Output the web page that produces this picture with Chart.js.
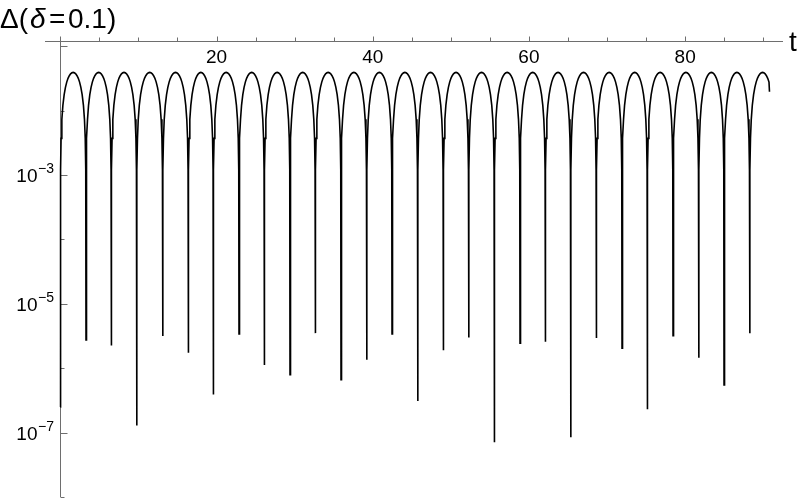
<!DOCTYPE html>
<html>
<head>
<meta charset="utf-8">
<script src="https://cdn.jsdelivr.net/npm/chart.js@4.4.1/dist/chart.umd.min.js"></script>
<style>
  html, body { margin: 0; padding: 0; background: #fff; }
  #wrap { width: 800px; height: 498px; }
</style>
</head>
<body>
<div id="wrap"><canvas id="c" width="800" height="498"></canvas></div>
<script>
// ---- data ----
const dipTimes = [0, 3.29, 6.53, 9.78, 13.11, 16.39, 19.59, 22.88, 26.12, 29.41, 32.65, 35.94, 39.23, 42.47,
  45.76, 49.04, 52.29, 55.57, 58.86, 62.10, 65.35, 68.63, 71.92, 75.16, 78.45, 81.74, 84.98, 88.27];
const dipValues = [2.5e-7, 2.75e-6, 2.24e-6, 1.29e-7, 3.16e-6, 1.74e-6, 3.9e-7, 3.4e-6, 1.12e-6, 7.9e-7, 3.5e-6,
  6.6e-7, 1.35e-6, 3.4e-6, 3.1e-7, 1.9e-6, 3.0e-6, 7.1e-8, 2.45e-6, 2.57e-6, 8.5e-8, 2.95e-6, 2.04e-6, 2.3e-7,
  3.2e-6, 1.45e-6, 5.5e-7, 3.5e-6];
// shape of one arch between two dips: position as a fraction of the gap, and the value there
const archFractions = [0.01, 0.03, 0.06, 0.1, 0.15, 0.2, 0.25, 0.3, 0.35, 0.4, 0.45, 0.5,
  0.55, 0.6, 0.65, 0.7, 0.75, 0.8, 0.85, 0.9, 0.94, 0.97, 0.99];
const archValues = [0.0012, 0.0037, 0.0073, 0.0120, 0.0177, 0.0229, 0.0276, 0.0316, 0.0347, 0.0371, 0.0385, 0.0390,
  0.0385, 0.0371, 0.0347, 0.0316, 0.0276, 0.0229, 0.0177, 0.0120, 0.0073, 0.0037, 0.0012];
const curveEndT = 90.8;
const curveEndV = 0.0195;

const xTickValues = [0, 5, 10, 15, 20, 25, 30, 35, 40, 45, 50, 55, 60, 65, 70, 75, 80, 85, 90];
const xTickLabels = [20, 40, 60, 80];
const yTickExponents = [-1, -2, -3, -4, -5, -6, -7, -8];
const yLabelExponents = [-3, -5, -7];

// ---- build the series table ----
const points = [];
for (let i = 0; i < dipTimes.length; i++) {
  const t0 = dipTimes[i];
  const last = i === dipTimes.length - 1;
  const gap = last ? (dipTimes[i] - dipTimes[i - 1]) : (dipTimes[i + 1] - t0);
  points.push({ x: t0, y: dipValues[i] });
  for (let k = 0; k < archFractions.length; k++) {
    const t = t0 + archFractions[k] * gap;
    if (last && t >= curveEndT) break;
    points.push({ x: t, y: archValues[k] });
  }
}
points.push({ x: curveEndT, y: curveEndV });

const AXIS = '#6e6e6e';
const FONT = '"Liberation Sans", Arial, sans-serif';

const axesPlugin = {
  id: 'mmaAxes',
  beforeDatasetsDraw(chart) {
    const { ctx, chartArea: a, scales: { x, y } } = chart;
    ctx.save();
    ctx.strokeStyle = AXIS;
    ctx.lineWidth = 1;
    // x axis along the top
    const ay = Math.round(a.top) + 0.5;
    ctx.beginPath();
    ctx.moveTo(a.left, ay); ctx.lineTo(a.right, ay);
    xTickValues.forEach(v => {
      const px = Math.round(x.getPixelForValue(v)) + 0.5;
      const len = (v % 20 === 0) ? 5 : 4;
      ctx.moveTo(px, ay); ctx.lineTo(px, ay - len);
    });
    ctx.stroke();
    // y axis at t = 0
    const ax = Math.round(x.getPixelForValue(0)) + 0.5;
    ctx.beginPath();
    ctx.moveTo(ax, a.top); ctx.lineTo(ax, a.bottom);
    yTickExponents.forEach(e => {
      const py = Math.round(y.getPixelForValue(Math.pow(10, e))) + 0.5;
      const len = (Math.abs(e) % 2 === 1) ? 7 : 4;
      ctx.moveTo(ax, py); ctx.lineTo(ax + len, py);
    });
    ctx.stroke();

    // tick labels
    ctx.fillStyle = '#000';
    ctx.textAlign = 'center';
    ctx.textBaseline = 'alphabetic';
    ctx.font = '19px ' + FONT;
    xTickLabels.forEach(v => {
      ctx.fillText(String(v), x.getPixelForValue(v), 62.5);
    });
    yLabelExponents.forEach(e => {
      const py = y.getPixelForValue(Math.pow(10, e));
      ctx.textAlign = 'right';
      ctx.font = '19px ' + FONT;
      ctx.fillText('10', 37.5, py + 7.5);
      ctx.textAlign = 'left';
      ctx.font = '14px ' + FONT;
      ctx.fillText('\u2212' + Math.abs(e), 38, py - 2);
    });

    // axis labels
    ctx.textAlign = 'left';
    ctx.font = '28px ' + FONT;
    ctx.fillText('\u0394(', 0, 28);
    ctx.font = 'italic 28px ' + FONT;
    ctx.fillText('\u03B4', 30, 28);
    ctx.font = '28px ' + FONT;
    ctx.fillText('=', 49, 28);
    ctx.fillText('0.1)', 68, 28);
    ctx.fillText('t', 789, 51);
    ctx.restore();
  }
};

new Chart(document.getElementById('c'), {
  type: 'line',
  data: {
    datasets: [{
      data: points,
      borderColor: '#000',
      borderWidth: 1.6,
      pointRadius: 0,
      tension: 0,
      fill: false
    }]
  },
  options: {
    responsive: false,
    animation: false,
    events: [],
    layout: { padding: { left: 45, right: 17, top: 41, bottom: 1 } },
    plugins: { legend: { display: false }, tooltip: { enabled: false }, title: { display: false } },
    scales: {
      x: { type: 'linear', min: -1.96, max: 92.53, display: false },
      y: { type: 'logarithmic', min: 1e-8, max: 0.12, display: false }
    }
  },
  plugins: [axesPlugin]
});
</script>
</body>
</html>
